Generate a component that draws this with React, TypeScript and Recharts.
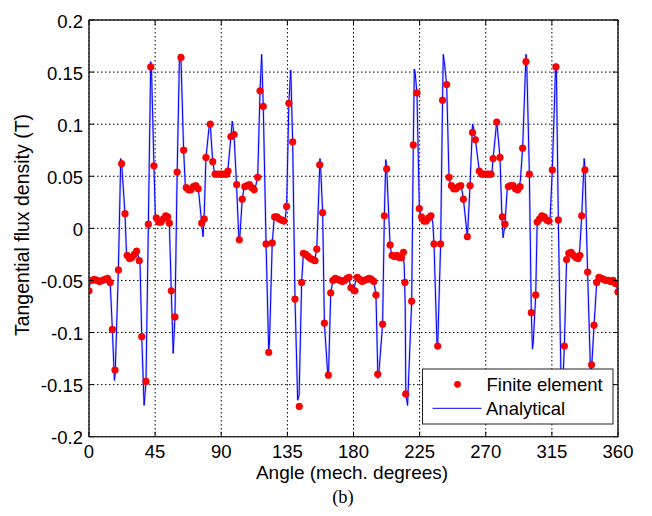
import React from 'react';
import { ComposedChart, Line, Scatter, XAxis, YAxis, CartesianGrid, ReferenceArea } from 'recharts';

const xTicks = [0, 45, 90, 135, 180, 225, 270, 315, 360];
const xTickLabels = ['0', '45', '90', '135', '180', '225', '270', '315', '360'];
const yTicks = [-0.2, -0.15, -0.1, -0.05, 0, 0.05, 0.1, 0.15, 0.2];
const yTickLabels = ['-0.2', '-0.15', '-0.1', '-0.05', '0', '0.05', '0.1', '0.15', '0.2'];

const xLabel = 'Angle (mech. degrees)';
const yLabel = 'Tangential flux density (T)';
const caption = '(b)';
const seriesNames = ['Finite element', 'Analytical'];

// Analytical curve: [angle, value]
const analytical: [number, number][] = [
  [0, -0.057], [1, -0.052], [2.5, -0.049], [4, -0.05], [6, -0.051], [8, -0.05], [10, -0.049], [12, -0.048], [13.5, -0.05], [14.5, -0.054],
  [15.9, -0.097], [17.3, -0.146], [17.8, -0.14], [20, -0.04], [21.6, 0.067], [22.3, 0.06], [24.5, 0.014], [25.5, -0.024],
  [27, -0.028], [28.5, -0.029], [30, -0.027], [31.5, -0.024], [32.4, -0.021], [33.5, -0.026], [34.7, -0.032],
  [35.9, -0.104], [37.5, -0.17], [38.8, -0.147], [40.4, 0.004], [42, 0.16], [42.5, 0.155], [44.2, 0.06], [45.2, 0.01],
  [46.5, 0.008], [48, 0.005], [49.5, 0.007], [51, 0.01], [52.5, 0.012], [53.5, 0.011], [54.7, 0.004],
  [56, -0.06], [57.3, -0.12], [58.5, -0.085], [60, 0.054], [61.6, 0.167], [62.6, 0.162], [64.4, 0.075], [65.5, 0.042],
  [67, 0.038], [68.5, 0.036], [70, 0.038], [71.5, 0.041], [73, 0.041], [74.5, 0.037],
  [76.7, 0.005], [77.6, -0.008], [78.3, 0.009], [79.6, 0.068], [82, 0.101], [82.6, 0.098], [84.2, 0.064], [85.5, 0.053],
  [87, 0.052], [89, 0.052], [91, 0.052], [93, 0.053], [94.5, 0.056],
  [96.6, 0.088], [97.5, 0.103], [98.7, 0.09], [100.3, 0.045], [102, -0.01], [102.5, -0.011], [104.3, 0.028], [105.5, 0.039],
  [107, 0.041], [108.5, 0.042], [110, 0.04], [111.5, 0.037], [113, 0.038], [114.8, 0.049],
  [116.4, 0.132], [117.5, 0.167], [118.6, 0.117], [120.5, -0.015], [122.3, -0.118], [122.8, -0.11], [124.7, -0.014], [126, 0.009],
  [127.5, 0.011], [129, 0.01], [130.5, 0.009], [132, 0.006], [133.5, 0.009], [134.5, 0.021],
  [136, 0.12], [137.3, 0.152], [138.6, 0.083], [140.2, -0.068], [142, -0.165], [143, -0.16], [144.7, -0.052], [145.9, -0.024],
  [147.5, -0.025], [149, -0.027], [150.5, -0.029], [152, -0.03], [153.5, -0.031], [155, -0.02],
  [157.2, 0.067], [157.6, 0.06], [159, 0.015], [160.2, -0.091], [162.6, -0.143], [163, -0.14], [164.5, -0.062], [166, -0.05],
  [167.5, -0.048], [169, -0.049], [170.5, -0.05], [172, -0.052], [173.5, -0.05], [175, -0.048], [176.5, -0.047], [178, -0.055],
  [179, -0.062], [180.5, -0.058], [181.5, -0.05], [182.6, -0.047], [184, -0.049], [185.5, -0.051], [187, -0.05], [188.5, -0.049],
  [190, -0.048], [191.5, -0.049], [193, -0.051], [194.3, -0.055],
  [195.3, -0.064], [196.6, -0.144], [197.2, -0.14], [199.8, -0.092], [201, 0.012], [202, 0.066], [202.6, 0.057], [204.9, -0.016], [206, -0.026],
  [207.5, -0.027], [209, -0.026], [210.5, -0.028], [212, -0.03], [213.5, -0.023], [214.5, -0.035],
  [215.2, -0.075], [215.6, -0.159], [216.8, -0.17], [219.6, -0.07], [220.7, 0.08], [221.4, 0.153], [221.9, 0.15], [223.2, 0.13], [224.8, 0.019], [225.8, 0.012],
  [227, 0.008], [228.5, 0.006], [230, 0.008], [231.5, 0.011], [233, 0.012], [234, 0.005],
  [234.8, -0.015], [236.9, -0.115], [237.3, -0.113], [239.3, -0.015], [240.6, 0.123], [241.1, 0.167], [241.8, 0.16], [243.4, 0.138], [245, 0.049], [246, 0.042],
  [247.5, 0.04], [249, 0.037], [250.5, 0.039], [252, 0.041], [253.5, 0.039], [254.8, 0.028],
  [257.5, -0.008], [258.2, 0.01], [259.3, 0.041], [261, 0.1], [261.5, 0.098], [263, 0.085], [265.6, 0.055],
  [267, 0.052], [269, 0.052], [271, 0.052], [273, 0.052], [274.3, 0.055],
  [275, 0.067], [277.5, 0.103], [279.7, 0.068], [281, 0.011], [281.8, -0.009], [283.1, 0.004], [284.5, 0.036],
  [286, 0.041], [287.5, 0.042], [289, 0.04], [290.5, 0.037], [292, 0.038], [293.5, 0.045],
  [295.1, 0.077], [297.4, 0.167], [297.9, 0.158], [299.7, 0.052], [301, -0.081], [301.8, -0.116], [302.3, -0.11], [304, -0.064], [305, 0.006],
  [306.5, 0.009], [308, 0.012], [309.5, 0.011], [311, 0.009], [312.5, 0.007], [313.8, 0.01],
  [315.3, 0.056], [317.6, 0.158], [318.1, 0.15], [319.4, 0.008], [321.5, -0.168], [322, -0.165], [323.5, -0.113], [325, -0.03],
  [326.5, -0.024], [328, -0.023], [329.5, -0.026], [331, -0.028], [332.5, -0.029], [333.8, -0.024],
  [335.3, 0.012], [337, 0.067], [337.5, 0.058], [339.3, -0.042], [341.4, -0.142], [342, -0.135], [343.7, -0.093], [345.5, -0.052],
  [347, -0.048], [349, -0.049], [351, -0.05], [353, -0.051], [355, -0.05], [357, -0.05], [358.5, -0.053], [360, -0.061],
];

// Finite element samples: [angle, value]
const finiteElement: [number, number][] = [
  [0, -0.06], [1.8, -0.05], [3.6, -0.049], [5.4, -0.05], [7.2, -0.051], [9, -0.05], [10.8, -0.049], [12.6, -0.048], [14.4, -0.052],
  [15.9, -0.097], [17.7, -0.136], [20, -0.04], [22.2, 0.062], [24.5, 0.014],
  [26, -0.026], [27.6, -0.029], [29.2, -0.028], [30.8, -0.025], [32.4, -0.022], [34.2, -0.031],
  [35.9, -0.104], [38.8, -0.147], [40.4, 0.004], [42, 0.155], [44.2, 0.06],
  [45.8, 0.01], [47.4, 0.006], [49, 0.006], [50.6, 0.009], [52.2, 0.012], [53.6, 0.011], [54.7, 0.005],
  [56, -0.06], [58.5, -0.085], [60, 0.054], [62.6, 0.164], [64.4, 0.075],
  [66.2, 0.039], [67.8, 0.037], [69.4, 0.037], [71, 0.04], [72.6, 0.041], [74.3, 0.038],
  [76.7, 0.005], [78.4, 0.009], [79.6, 0.068], [82.5, 0.1], [84.2, 0.064],
  [85.8, 0.052], [87.4, 0.052], [89, 0.052], [90.6, 0.052], [92.2, 0.052], [93.7, 0.052], [94.6, 0.055],
  [96.6, 0.088], [98.7, 0.09], [100.5, 0.042], [102.3, -0.011], [104.3, 0.028],
  [106, 0.04], [107.6, 0.041], [109.2, 0.042], [110.8, 0.039], [112.4, 0.037], [114.8, 0.049],
  [116.4, 0.132], [118.6, 0.117], [120.5, -0.015], [122.3, -0.119], [124.7, -0.014],
  [126.3, 0.011], [127.9, 0.011], [129.5, 0.009], [131.1, 0.008], [132.7, 0.007], [134.5, 0.021],
  [136, 0.12], [138.6, 0.083], [140.2, -0.068], [143.1, -0.171], [144.7, -0.052], [145.9, -0.024],
  [147.5, -0.025], [149.1, -0.027], [150.7, -0.029], [152.3, -0.03], [153.8, -0.031], [155, -0.02],
  [157, 0.061], [159, 0.015], [160.2, -0.091], [162.9, -0.141], [164.5, -0.062],
  [166, -0.05], [167.6, -0.048], [169.2, -0.049], [170.8, -0.05], [172.4, -0.051], [174, -0.05], [175.6, -0.048], [177, -0.047],
  [178.3, -0.057], [181, -0.06], [182.6, -0.047], [184.2, -0.049], [185.8, -0.051], [187.4, -0.05], [189, -0.049], [190.6, -0.048],
  [192.2, -0.049], [193.8, -0.051],
  [195.3, -0.064], [196.5, -0.14], [199.8, -0.092], [201, 0.012], [202.6, 0.057], [204.9, -0.016],
  [206.3, -0.026], [207.9, -0.027], [209.5, -0.026], [211.1, -0.028], [212.7, -0.028], [214, -0.023],
  [215, -0.052], [215.5, -0.159], [219.6, -0.07], [220.7, 0.08], [223.2, 0.13], [224.8, 0.019],
  [226.3, 0.011], [227.9, 0.007], [229.5, 0.007], [231.1, 0.01], [232.7, 0.012], [234.8, -0.015],
  [237.3, -0.113], [239.3, -0.015], [240.6, 0.123], [243.4, 0.138], [245, 0.049],
  [246.6, 0.041], [248.2, 0.038], [249.8, 0.038], [251.4, 0.04], [253, 0.041], [254.8, 0.028],
  [257.5, -0.008], [259.3, 0.041], [261, 0.092], [263, 0.085], [265.6, 0.055],
  [267.2, 0.052], [268.8, 0.052], [270.4, 0.052], [272, 0.052], [273.6, 0.052], [275, 0.067],
  [277.5, 0.102], [279.7, 0.068], [281.3, 0.011], [283.1, 0.004],
  [285.4, 0.04], [287, 0.041], [288.6, 0.041], [290.2, 0.038], [291.8, 0.037], [293.3, 0.04],
  [295.1, 0.077], [297.4, 0.16], [299.7, 0.052], [301, -0.081], [304, -0.064],
  [305, 0.006], [306.6, 0.009], [308.2, 0.012], [309.8, 0.011], [311.4, 0.008], [313, 0.007],
  [315.3, 0.056], [317.8, 0.155], [319.4, 0.008], [321.5, -0.17], [323.5, -0.113], [325, -0.03],
  [326.5, -0.024], [328.1, -0.023], [329.7, -0.026], [331.3, -0.028], [332.9, -0.029], [334, -0.026],
  [335.3, 0.012], [337.5, 0.056], [339.3, -0.042], [342, -0.131], [343.7, -0.093], [345.5, -0.052],
  [347, -0.047], [348.6, -0.048], [350.2, -0.049], [351.8, -0.05], [353.4, -0.05], [355, -0.051], [356.6, -0.05], [358.2, -0.053], [360, -0.061],
];

const analyticalData = analytical.map(([x, y]) => ({ x, y }));
const feData = finiteElement.map(([x, y]) => ({ x, y }));

const W = 652;
const H = 516;
const LEFT = 89;
const RIGHT = 618;
const TOP = 20;
const BOTTOM = 436.7;
const FONT = '"Liberation Sans", Arial, Helvetica, sans-serif';

const XTick = (props: any) => {
  const { x, payload } = props;
  const i = xTicks.indexOf(payload.value);
  return (
    <g>
      <line x1={x} x2={x} y1={BOTTOM} y2={BOTTOM - 5} stroke="#000" strokeWidth={1} />
      <line x1={x} x2={x} y1={TOP} y2={TOP + 5} stroke="#000" strokeWidth={1} />
      <text x={x} y={457.5} textAnchor="middle" fontFamily={FONT} fontSize={18.5} fill="#000">
        {i >= 0 ? xTickLabels[i] : payload.value}
      </text>
    </g>
  );
};

const YTick = (props: any) => {
  const { y, payload } = props;
  const i = yTicks.indexOf(payload.value);
  return (
    <g>
      <line x1={LEFT} x2={LEFT + 5} y1={y} y2={y} stroke="#000" strokeWidth={1} />
      <line x1={RIGHT} x2={RIGHT - 5} y1={y} y2={y} stroke="#000" strokeWidth={1} />
      <text x={83} y={y + 7.5} textAnchor="end" fontFamily={FONT} fontSize={18.5} fill="#000">
        {i >= 0 ? yTickLabels[i] : payload.value}
      </text>
    </g>
  );
};

const Dot = (props: any) => {
  const { cx, cy } = props;
  if (cx == null || cy == null) return null;
  return <circle cx={cx} cy={cy} r={3.4} fill="#ff0000" stroke="#e00000" strokeWidth={0.5} />;
};

export default function App() {
  return (
    <div style={{ position: 'absolute', left: 0, top: 0, width: W, height: H, background: '#fff' }}>
      <ComposedChart
        width={W}
        height={H}
        margin={{ top: TOP, right: W - RIGHT, bottom: 0, left: 0 }}
      >
        <CartesianGrid stroke="#000" strokeDasharray="1.5 2.5" strokeWidth={1} />
        <XAxis
          dataKey="x"
          type="number"
          domain={[0, 360]}
          ticks={xTicks}
          height={H - BOTTOM}
          axisLine={false}
          tickLine={false}
          tick={<XTick />}
          interval={0}
          allowDataOverflow
        />
        <YAxis
          dataKey="y"
          type="number"
          domain={[-0.2, 0.2]}
          ticks={yTicks}
          width={LEFT}
          axisLine={false}
          tickLine={false}
          tick={<YTick />}
          interval={0}
          allowDataOverflow
        />
        <Line
          data={analyticalData}
          dataKey="y"
          type="linear"
          stroke="#9a9aff"
          strokeWidth={2.2}
          strokeOpacity={0.6}
          dot={false}
          activeDot={false}
          isAnimationActive={false}
          legendType="none"
        />
        <Line
          data={analyticalData}
          dataKey="y"
          type="linear"
          stroke="#0000ff"
          strokeWidth={1}
          dot={false}
          activeDot={false}
          isAnimationActive={false}
        />
        <Scatter data={feData} dataKey="y" shape={<Dot />} isAnimationActive={false} />
        <ReferenceArea x1={0} x2={360} y1={-0.2} y2={0.2} fill="none" stroke="#222" strokeWidth={1} ifOverflow="visible" />
      </ComposedChart>
      <svg width={W} height={H} style={{ position: 'absolute', left: 0, top: 0, pointerEvents: 'none' }}>
        <rect x={LEFT} y={TOP} width={RIGHT - LEFT} height={BOTTOM - TOP} fill="none" stroke="#222" strokeWidth={1} />
        <g>
          <rect x={422.5} y={369} width={190.5} height={55} fill="#fff" stroke="#222" strokeWidth={1} />
          <circle cx={457.5} cy={384.3} r={3.4} fill="#ff0000" />
          <text x={486.5} y={391} fontFamily={FONT} fontSize={18.5} fill="#000">{seriesNames[0]}</text>
          <line x1={432.5} x2={481.5} y1={408.3} y2={408.3} stroke="#0000ff" strokeWidth={1} />
          <text x={486} y={415} fontFamily={FONT} fontSize={18.5} fill="#000">{seriesNames[1]}</text>
        </g>
        <text x={352} y={479} textAnchor="middle" fontFamily={FONT} fontSize={19} fill="#000">{xLabel}</text>
        <text x={29} y={225} textAnchor="middle" fontFamily={FONT} fontSize={19.5} fill="#000" transform="rotate(-90 29 225)">{yLabel}</text>
        <text x={343} y={503} textAnchor="middle" fontFamily='"Liberation Serif", "Times New Roman", serif' fontSize={18.5} fill="#000">{caption}</text>
      </svg>
    </div>
  );
}
